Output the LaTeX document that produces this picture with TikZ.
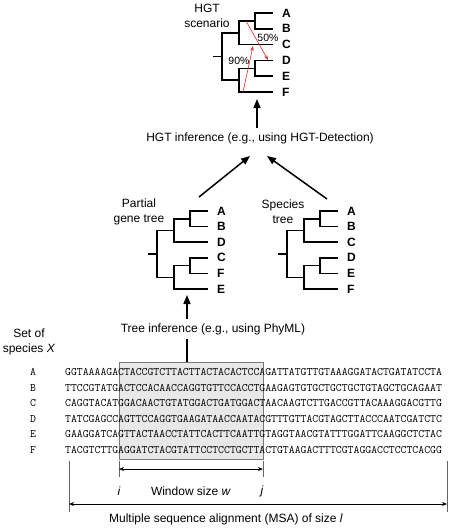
\documentclass[tikz,border=0pt]{standalone}
\usepackage{fontspec}
\setmainfont{Liberation Sans}
\usetikzlibrary{arrows.meta}
\definecolor{hgtred}{RGB}{225,45,45}
\definecolor{boxfill}{RGB}{232,232,232}
\definecolor{boxline}{RGB}{120,120,120}
\definecolor{bargray}{RGB}{100,100,100}
\tikzset{
  branch/.style={line width=1.6pt, line join=miter},
  lbl/.style={font=\fontsize{12}{15}\selectfont, inner sep=0pt, align=center},
  leaf/.style={font=\fontsize{12}{14}\selectfont\bfseries, inner sep=0pt, anchor=west},
  pct/.style={font=\fontsize{10.5}{12}\selectfont, inner sep=0pt},
  seq/.style={font=\fontsize{11.43}{13}\selectfont\ttfamily, inner sep=0pt, anchor=west},
  seqlbl/.style={font=\fontsize{11.43}{13}\selectfont\ttfamily, inner sep=0pt},
  bigarrow/.style={line width=1.5pt, -{Triangle[length=9pt,width=7pt]}},
  redarr/.style={draw=hgtred, line width=0.6pt, -{Stealth[length=5pt,width=3.5pt]}},
  bar/.style={draw=bargray, line width=0.6pt},
  dimarrow/.style={line width=0.7pt, {Stealth[length=5pt,width=4pt]}-{Stealth[length=5pt,width=4pt]}}
}
\newcommand\drawtreeat[9]{%
\begin{scope}[shift={(#1)}, y=-#2pt]
\draw[branch] (0,0) -- (-18,0) -- (-18,1) -- (0,1);
\draw[branch] (-18,0.5) -- (-34,0.5) -- (-34,2) -- (0,2);
\draw[branch] (0,3) -- (-18,3) -- (-18,4) -- (0,4);
\draw[branch] (-18,3.5) -- (-34,3.5) -- (-34,5) -- (0,5);
\draw[branch] (-34,1.25) -- (-51,1.25) -- (-51,4.25) -- (-34,4.25);
\draw[branch] (-51,2.75) -- (-60,2.75);
\node[leaf] (#3-1) at (9,0) {#4};
\node[leaf] (#3-2) at (9,1) {#5};
\node[leaf] (#3-3) at (9,2) {#6};
\node[leaf] (#3-4) at (9,3) {#7};
\node[leaf] (#3-5) at (9,4) {#8};
\node[leaf] (#3-6) at (9,5) {#9};
\end{scope}}
\begin{document}
\begin{tikzpicture}[x=1pt,y=-1pt]
\useasboundingbox (0,0) rectangle (448,528);
% HGT scenario tree
\drawtreeat{273,13}{15.8}{h}{A}{B}{C}{D}{E}{F}
\node[lbl] (hgtlbl) at (207,16) {HGT\\scenario};
\coordinate (r1s) at (246,21);
\coordinate (r1e) at (268,60);
\draw[redarr] (r1s) -- (r1e);
\coordinate (r2s) at (243,92);
\coordinate (r2e) at (253,46);
\draw[redarr] (r2s) -- (r2e);
\node[pct] (p50) at (268,38) {50\%};
\node[pct] (p90) at (239,61) {90\%};
% HGT inference
\node[lbl, inner sep=4pt] (hgtinf) at (260,138) {HGT inference (e.g., using HGT-Detection)};
\coordinate (htop) at (257,99);
\draw[bigarrow] (hgtinf.north -| htop) -- (htop);
% partial gene tree and species tree
\drawtreeat{208,211}{15.6}{p}{A}{B}{D}{C}{F}{E}
\node[lbl] (pglbl) at (139,212) {Partial\\gene tree};
\drawtreeat{338,211}{15.6}{s}{A}{B}{C}{D}{E}{F}
\node[lbl] (splbl) at (283,212) {Species\\tree};
\coordinate (pgtip) at (199,197);
\coordinate (hin1) at (250,156);
\coordinate (sptip) at (327,199);
\coordinate (hin2) at (267,156);
\draw[bigarrow] (pgtip) -- (hin1);
\draw[bigarrow] (sptip) -- (hin2);
% tree inference
\node[lbl, inner sep=4pt] (treeinf) at (213,329) {Tree inference (e.g., using PhyML)};
\coordinate (ptbot) at (187,295);
\draw[bigarrow] (treeinf.north -| ptbot) -- (ptbot);
% window box
\node[draw=boxline, fill=boxfill, line width=0.7pt, minimum width=144pt, minimum height=97pt, inner sep=0pt] (win) at (191,410.5) {};
\draw[line width=1.5pt] (treeinf.south -| ptbot) -- (win.north -| ptbot);
% species set
\node[lbl] (setlbl) at (29,342) {Set of\\species \textit{X}};
\node[seqlbl] (lA) at (33,372) {A};
\node[seqlbl] (lB) at (33,387.6) {B};
\node[seqlbl] (lC) at (33,403.2) {C};
\node[seqlbl] (lD) at (33,418.8) {D};
\node[seqlbl] (lE) at (33,434.4) {E};
\node[seqlbl] (lF) at (33,450) {F};
\node[seq] (sA) at (65,372) {GGTAAAAGACTACCGTCTTACTTACTACACTCCAGATTATGTTGTAAAGGATACTGATATCCTA};
\node[seq] (sB) at (65,387.6) {TTCCGTATGACTCCACAACCAGGTGTTCCACCTGAAGAGTGTGCTGCTGCTGTAGCTGCAGAAT};
\node[seq] (sC) at (65,403.2) {CAGGTACATGGACAACTGTATGGACTGATGGACTAACAAGTCTTGACCGTTACAAAGGACGTTG};
\node[seq] (sD) at (65,418.8) {TATCGAGCCAGTTCCAGGTGAAGATAACCAATACGTTTGTTACGTAGCTTACCCAATCGATCTC};
\node[seq] (sE) at (65,434.4) {GAAGGATCAGTTACTAACCTATTCACTTCAATTGTAGGTAACGTATTTGGATTCAAGGCTCTAC};
\node[seq] (sF) at (65,450) {TACGTCTTGAGGATCTACGTATTCCTCCTGCTTACTGTAAGACTTTCGTAGGACCTCCTCACGG};
% window bars
\coordinate (wi1) at (119,461);
\coordinate (wi2) at (119,477);
\coordinate (wj1) at (263,461);
\coordinate (wj2) at (263,477);
\draw[bar] (wi1) -- (wi2);
\draw[bar] (wj1) -- (wj2);
\coordinate (wa1) at (119,469);
\coordinate (wa2) at (263,469);
\draw[dimarrow] (wa1) -- (wa2);
\node[lbl] (ilbl) at (119,491) {\textit{i}};
\node[lbl] (jlbl) at (262,491) {\textit{j}};
\node[lbl] (wlbl) at (191,491) {Window size \textit{w}};
% MSA bars
\coordinate (l1) at (69,461);
\coordinate (l2) at (69,512);
\coordinate (r1) at (447,461);
\coordinate (r2) at (447,512);
\draw[bar] (l1) -- (l2);
\draw[bar] (r1) -- (r2);
\coordinate (ma1) at (69,504);
\coordinate (ma2) at (447,504);
\draw[dimarrow] (ma1) -- (ma2);
\node[lbl] (msalbl) at (226,519) {Multiple sequence alignment (MSA) of size \textit{l}};
\end{tikzpicture}
\end{document}
